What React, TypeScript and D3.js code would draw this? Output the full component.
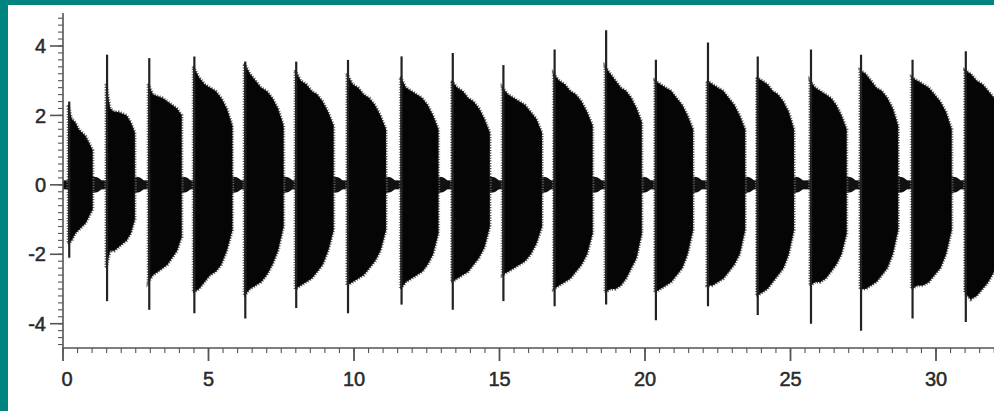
import React, { useEffect, useRef } from 'react';
import * as d3 from 'd3';

// burst onsets / offsets (seconds)
const burstStart = [0.18, 1.48, 2.93, 4.48, 6.23, 7.98, 9.76, 11.6, 13.36, 15.1, 16.86, 18.63, 20.34, 22.13, 23.84, 25.67, 27.39, 29.16, 30.99];
const burstEnd = [1.02, 2.47, 4.08, 5.82, 7.58, 9.3, 11.1, 12.9, 14.67, 16.46, 18.2, 19.89, 21.65, 23.44, 25.12, 26.93, 28.7, 30.54, 32.4];

// onset spike extremes
const spikeTop = [2.4, 3.75, 3.65, 3.7, 3.55, 3.55, 3.6, 3.7, 3.8, 3.45, 3.9, 4.45, 3.6, 4.1, 3.7, 3.9, 3.75, 3.6, 3.85];
const spikeBottom = [-2.1, -3.35, -3.6, -3.7, -3.85, -3.55, -3.7, -3.45, -3.6, -3.35, -3.5, -3.45, -3.9, -3.5, -3.75, -4.0, -4.2, -3.85, -3.95];

// amplitude envelope, 8 values evenly spread across each burst
const envTop = [
  [2.3, 1.9, 1.8, 1.6, 1.5, 1.4, 1.2, 1.0],
  [2.9, 2.2, 2.1, 2.1, 2.05, 2.0, 1.8, 1.5],
  [2.9, 2.6, 2.55, 2.5, 2.4, 2.3, 2.2, 2.0],
  [3.4, 3.1, 2.9, 2.8, 2.7, 2.5, 2.2, 1.7],
  [3.5, 3.2, 3.0, 2.8, 2.7, 2.5, 2.2, 1.7],
  [3.3, 3.0, 2.9, 2.7, 2.6, 2.4, 2.1, 1.7],
  [3.2, 2.9, 2.8, 2.6, 2.5, 2.3, 2.0, 1.6],
  [3.1, 2.8, 2.7, 2.6, 2.5, 2.3, 2.0, 1.6],
  [3.0, 2.8, 2.7, 2.5, 2.4, 2.2, 1.9, 1.5],
  [2.8, 2.6, 2.5, 2.4, 2.3, 2.1, 1.9, 1.5],
  [3.2, 3.0, 2.9, 2.7, 2.6, 2.4, 2.1, 1.7],
  [3.4, 3.2, 3.0, 2.8, 2.7, 2.5, 2.2, 1.8],
  [3.0, 2.9, 2.8, 2.7, 2.5, 2.3, 2.0, 1.6],
  [3.0, 2.9, 2.8, 2.7, 2.5, 2.3, 2.0, 1.6],
  [3.1, 3.0, 2.9, 2.7, 2.6, 2.4, 2.1, 1.6],
  [3.0, 2.8, 2.7, 2.6, 2.5, 2.3, 2.0, 1.6],
  [3.3, 3.2, 3.0, 2.8, 2.7, 2.5, 2.2, 1.7],
  [3.1, 3.0, 2.9, 2.8, 2.6, 2.4, 2.1, 1.6],
  [3.3, 3.2, 3.0, 2.9, 2.7, 2.5, 2.2, 1.7],
];
const envBottom = [
  [-1.7, -1.6, -1.4, -1.3, -1.2, -1.1, -0.9, -0.7],
  [-2.4, -1.9, -1.9, -1.8, -1.7, -1.6, -1.4, -1.0],
  [-2.8, -2.6, -2.5, -2.4, -2.3, -2.1, -1.9, -1.5],
  [-3.1, -3.0, -2.8, -2.6, -2.5, -2.3, -1.9, -1.3],
  [-3.2, -3.0, -2.9, -2.8, -2.6, -2.3, -1.9, -1.2],
  [-3.0, -2.9, -2.8, -2.7, -2.5, -2.3, -1.9, -1.3],
  [-2.9, -2.8, -2.7, -2.6, -2.4, -2.2, -1.9, -1.3],
  [-3.0, -2.8, -2.7, -2.6, -2.5, -2.3, -2.0, -1.4],
  [-2.8, -2.7, -2.6, -2.5, -2.3, -2.1, -1.8, -1.2],
  [-2.6, -2.5, -2.4, -2.3, -2.2, -2.0, -1.7, -1.2],
  [-3.0, -2.9, -2.8, -2.7, -2.5, -2.3, -2.0, -1.4],
  [-3.1, -3.0, -3.0, -2.9, -2.7, -2.4, -2.1, -1.4],
  [-3.1, -3.0, -2.9, -2.8, -2.6, -2.4, -2.0, -1.3],
  [-2.9, -2.9, -2.8, -2.7, -2.5, -2.3, -2.0, -1.3],
  [-3.2, -3.1, -3.0, -2.8, -2.6, -2.4, -2.0, -1.3],
  [-2.9, -2.8, -2.8, -2.7, -2.5, -2.3, -2.0, -1.4],
  [-3.0, -3.0, -2.9, -2.8, -2.6, -2.4, -2.0, -1.3],
  [-3.0, -2.9, -2.9, -2.8, -2.6, -2.4, -2.0, -1.3],
  [-3.1, -3.3, -3.2, -3.0, -2.8, -2.5, -2.1, -1.4],
];

const noiseLevel = 0.13; // background hum between bursts
const tailLevel = 0.24;
const tailLength = 0.3;

const xTicks = [0, 5, 10, 15, 20, 25, 30];
const yTicks = [-4, -2, 0, 2, 4];

const W = 994, H = 411;

const App = () => {
  const ref = useRef<SVGSVGElement>(null);

  useEffect(() => {
    const svg = d3.select(ref.current);
    svg.selectAll('*').remove();

    const x = d3.scaleLinear().domain([0, 32]).range([63, 63 + 32 * 29.1]);
    const y = d3.scaleLinear().domain([-4.7, 4.95]).range([348, 13]);

    svg.append('rect').attr('width', W).attr('height', H).attr('fill', '#fff');

    const plot = svg.append('g');
    plot.append('clipPath').attr('id', 'clip')
      .append('rect').attr('x', 63).attr('y', 0).attr('width', W - 63).attr('height', 348);
    const g = plot.append('g').attr('clip-path', 'url(#clip)');

    // baseline noise band
    g.append('rect')
      .attr('x', x(0)).attr('width', x(32.5) - x(0))
      .attr('y', y(noiseLevel)).attr('height', y(-noiseLevel) - y(noiseLevel))
      .attr('fill', '#111');

    const area = d3.area<[number, number, number]>()
      .x(d => x(d[0]))
      .y0(d => y(d[2]))
      .y1(d => y(d[1]))
      .curve(d3.curveLinear);

    const tailArea = d3.area<[number, number, number]>()
      .x(d => x(d[0]))
      .y0(d => y(d[2]))
      .y1(d => y(d[1]))
      .curve(d3.curveMonotoneX);

    burstStart.forEach((s, i) => {
      const e = burstEnd[i];
      const pts: [number, number, number][] = envTop[i].map((v, k) => [
        s + (k / (envTop[i].length - 1)) * (e - s), v, envBottom[i][k]
      ]);

      // little tail after the burst dies away
      g.append('path')
        .datum([
          [e - 0.05, tailLevel, -tailLevel],
          [e + tailLength * 0.5, tailLevel * 0.9, -tailLevel * 0.9],
          [e + tailLength, noiseLevel, -noiseLevel]
        ] as [number, number, number][])
        .attr('d', tailArea)
        .attr('fill', '#111');

      // gray ragged fringe
      g.append('path')
        .datum(pts)
        .attr('d', area)
        .attr('fill', 'none')
        .attr('stroke', '#7a7a7a')
        .attr('stroke-width', 3.5)
        .attr('stroke-dasharray', '1 1.6');

      g.append('path')
        .datum(pts)
        .attr('d', area)
        .attr('fill', '#050505')
        .attr('stroke', '#2a2a2a')
        .attr('stroke-width', 1.2)
        .attr('stroke-dasharray', '1.4 1.2')
        .attr('stroke-linejoin', 'round');

      // onset spike
      g.append('line')
        .attr('x1', x(s) + 1).attr('x2', x(s) + 1)
        .attr('y1', y(spikeTop[i])).attr('y2', y(spikeBottom[i]))
        .attr('stroke', '#222').attr('stroke-width', 2.2);
    });

    const axisColor = '#555';
    const font = "'Liberation Sans', Arial, sans-serif";

    // y axis
    const yAxis = svg.append('g');
    yAxis.append('line')
      .attr('x1', 63).attr('x2', 63).attr('y1', 13).attr('y2', 348)
      .attr('stroke', axisColor).attr('stroke-width', 1.6);
    d3.range(-4.6, 4.95, 0.2).forEach(v => {
      yAxis.append('line')
        .attr('x1', 58).attr('x2', 63).attr('y1', y(v)).attr('y2', y(v))
        .attr('stroke', axisColor).attr('stroke-width', 1.1);
    });
    yTicks.forEach(v => {
      yAxis.append('line')
        .attr('x1', 50).attr('x2', 63).attr('y1', y(v)).attr('y2', y(v))
        .attr('stroke', axisColor).attr('stroke-width', 1.6);
      yAxis.append('text')
        .attr('x', 46).attr('y', y(v)).attr('dy', '0.36em')
        .attr('text-anchor', 'end')
        .attr('font-family', font).attr('font-size', 20).attr('fill', '#2a2a2a')
        .attr('stroke', '#2a2a2a').attr('stroke-width', 0.5)
        .text(v);
    });

    // x axis
    const xAxis = svg.append('g');
    xAxis.append('line')
      .attr('x1', 63).attr('x2', W).attr('y1', 348).attr('y2', 348)
      .attr('stroke', axisColor).attr('stroke-width', 1.6);
    d3.range(0, 32.1, 0.5).forEach(v => {
      xAxis.append('line')
        .attr('x1', x(v)).attr('x2', x(v)).attr('y1', 348).attr('y2', 353)
        .attr('stroke', axisColor).attr('stroke-width', 1.1);
    });
    xTicks.forEach(v => {
      xAxis.append('line')
        .attr('x1', x(v)).attr('x2', x(v)).attr('y1', 348).attr('y2', 361)
        .attr('stroke', axisColor).attr('stroke-width', 1.8);
      xAxis.append('text')
        .attr('x', x(v) + (v === 0 ? 4 : 0)).attr('y', 386)
        .attr('text-anchor', 'middle')
        .attr('font-family', font).attr('font-size', 20).attr('fill', '#2a2a2a')
        .attr('stroke', '#2a2a2a').attr('stroke-width', 0.5)
        .text(v);
    });

    // teal frame
    svg.append('rect').attr('x', 0).attr('y', 0).attr('width', 8).attr('height', H).attr('fill', '#008480');
    svg.append('rect').attr('x', 0).attr('y', 0).attr('width', W).attr('height', 5).attr('fill', '#008480');

    return () => { svg.selectAll('*').remove(); };
  }, []);

  return (
    <svg ref={ref} width={W} height={H} style={{ position: 'absolute', left: 0, top: 0 }} />
  );
};

export default App;
